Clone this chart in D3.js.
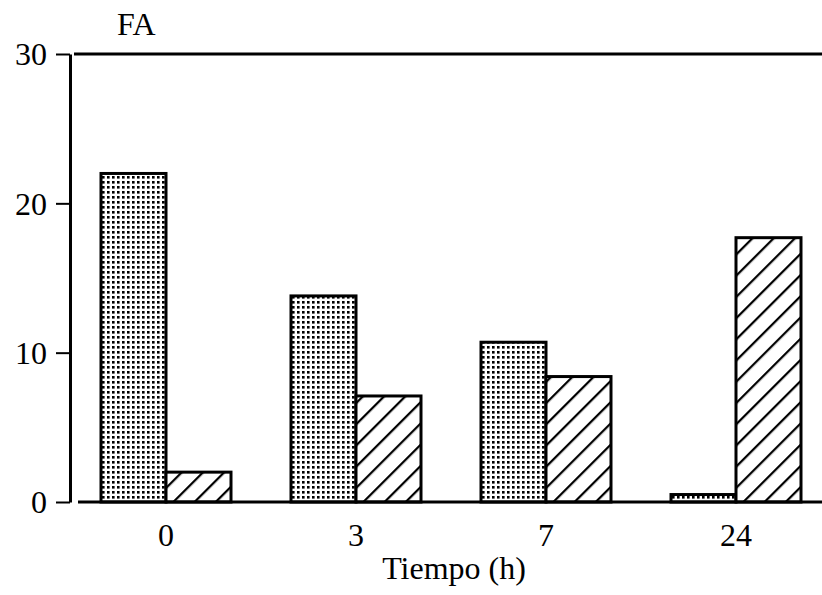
<!DOCTYPE html>
<html>
<head>
<meta charset="utf-8">
<script src="https://cdn.jsdelivr.net/npm/d3@7"></script>
<style>
  body { margin: 0; background: #fff; }
  text { font-family: "Liberation Serif", "DejaVu Serif", serif; fill: #000; }
</style>
</head>
<body>
<div id="chart"></div>
<script>
// time points (h)
const categories = ['0', '3', '7', '24'];
// dotted bars
const dottedValues = [22, 13.8, 10.7, 0.5];
// hatched bars
const hatchedValues = [2, 7.1, 8.4, 17.7];
const yTicks = [0, 10, 20, 30];

const width = 822, height = 595;
const fontSize = 32;
const svg = d3.select('#chart').append('svg')
  .attr('width', width)
  .attr('height', height);

const defs = svg.append('defs');
// dotted fill
const dots = defs.append('pattern')
  .attr('id', 'dots')
  .attr('patternUnits', 'userSpaceOnUse')
  .attr('width', 5).attr('height', 5);
dots.append('rect').attr('width', 5).attr('height', 5).attr('fill', '#fff');
dots.append('rect').attr('x', 1).attr('y', 1).attr('width', 2.6).attr('height', 2.6).attr('fill', '#000');

// diagonal hatch
const hatch = defs.append('pattern')
  .attr('id', 'hatch')
  .attr('patternUnits', 'userSpaceOnUse')
  .attr('width', 15).attr('height', 15)
  .attr('patternTransform', 'rotate(45)');
hatch.append('rect').attr('width', 15).attr('height', 15).attr('fill', '#fff');
hatch.append('line')
  .attr('x1', 0).attr('y1', 0).attr('x2', 0).attr('y2', 15)
  .attr('stroke', '#000').attr('stroke-width', 4.5);

const y = d3.scaleLinear().domain([0, 30]).range([502, 54]);
const x0 = d3.scaleBand().domain(categories).range([71, 831])
  .paddingInner(0.3158).paddingOuter(0.1579);
const x1 = d3.scaleBand().domain(['dotted', 'hatched']).range([0, x0.bandwidth()]);

const rows = categories.map((c, i) => ({ cat: c, dotted: dottedValues[i], hatched: hatchedValues[i] }));

// bars
const groups = svg.selectAll('g.grp')
  .data(rows)
  .enter()
  .append('g')
  .attr('class', 'grp')
  .attr('transform', d => 'translate(' + x0(d.cat) + ',0)');

groups.selectAll('rect')
  .data(d => [{ key: 'dotted', v: d.dotted }, { key: 'hatched', v: d.hatched }])
  .enter()
  .append('rect')
  .attr('x', d => x1(d.key))
  .attr('y', d => y(d.v))
  .attr('width', x1.bandwidth())
  .attr('height', d => y(0) - y(d.v))
  .attr('fill', d => d.key === 'dotted' ? 'url(#dots)' : 'url(#hatch)')
  .attr('stroke', '#000')
  .attr('stroke-width', 3);

// frame lines
svg.append('line')
  .attr('x1', 74).attr('x2', width)
  .attr('y1', y(30)).attr('y2', y(30))
  .attr('stroke', '#000').attr('stroke-width', 3);
svg.append('line')
  .attr('x1', 78).attr('x2', width)
  .attr('y1', y(0)).attr('y2', y(0))
  .attr('stroke', '#000').attr('stroke-width', 3);

// y axis
const yAxis = svg.append('g')
  .attr('transform', 'translate(70,0)')
  .call(d3.axisLeft(y).tickValues(yTicks).tickSize(14).tickSizeOuter(0).tickPadding(9));
yAxis.select('.domain').attr('stroke-width', 3);
yAxis.selectAll('.tick line').attr('stroke-width', 2);
yAxis.selectAll('.tick text')
  .attr('font-size', fontSize)
  .attr('dy', '0.34em')
  .style('font-family', '"Liberation Serif", serif');

// x labels
const xAxis = svg.append('g')
  .attr('transform', 'translate(0,' + y(0) + ')')
  .call(d3.axisBottom(x0).tickSize(0).tickPadding(21));
xAxis.select('.domain').remove();
xAxis.selectAll('.tick text')
  .attr('font-size', fontSize)
  .style('font-family', '"Liberation Serif", serif');

svg.append('text')
  .attr('x', 454).attr('y', 579)
  .attr('text-anchor', 'middle')
  .attr('font-size', fontSize)
  .text('Tiempo (h)');

svg.append('text')
  .attr('x', 117).attr('y', 35)
  .attr('font-size', fontSize)
  .text('FA');
</script>
</body>
</html>
